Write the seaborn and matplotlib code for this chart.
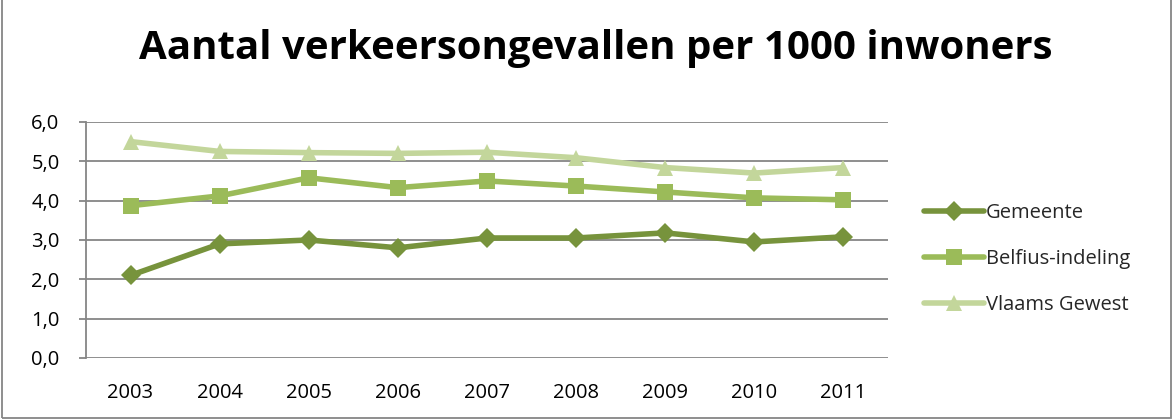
import matplotlib
matplotlib.use("Agg")
import matplotlib.pyplot as plt
import seaborn as sns
import pandas as pd
from matplotlib.patches import Rectangle
from matplotlib.ticker import FuncFormatter

years = ["2003", "2004", "2005", "2006", "2007", "2008", "2009", "2010", "2011"]
gemeente = [2.1, 2.9, 3.0, 2.8, 3.05, 3.05, 3.18, 2.95, 3.08]
belfius = [3.87, 4.12, 4.58, 4.33, 4.5, 4.37, 4.22, 4.07, 4.02]
vlaams = [5.5, 5.25, 5.22, 5.2, 5.23, 5.09, 4.84, 4.7, 4.84]
series_names = ["Gemeente", "Belfius-indeling", "Vlaams Gewest"]
title = "Aantal verkeersongevallen per 1000 inwoners"

df = pd.DataFrame({
    "jaar": years * 3,
    "x": list(range(len(years))) * 3,
    "waarde": gemeente + belfius + vlaams,
    "reeks": [series_names[0]] * 9 + [series_names[1]] * 9 + [series_names[2]] * 9,
})

sns.set_theme(style="white")
plt.rcParams['font.family'] = ['Open Sans', 'DejaVu Sans']

fig = plt.figure(figsize=(11.73, 4.19), dpi=100)
ax = fig.add_axes([0.0733, 0.1456, 0.757 - 0.0733, 0.709 - 0.1456])

colors = {"Gemeente": "#77933C", "Belfius-indeling": "#9BBB59", "Vlaams Gewest": "#C3D69B"}
markers = {"Gemeente": "D", "Belfius-indeling": "s", "Vlaams Gewest": "^"}
msizes = {"Gemeente": 10, "Belfius-indeling": 12, "Vlaams Gewest": 12}

for name in series_names:
    sub = df[df["reeks"] == name]
    sns.lineplot(data=sub, x="x", y="waarde", ax=ax, color=colors[name], linewidth=4,
                 marker=markers[name], markersize=msizes[name], markeredgewidth=0,
                 label=name)

ax.set_xlim(-0.5, len(years) - 0.5)
ax.set_ylim(0, 6)
ax.set_yticks([0, 1, 2, 3, 4, 5, 6])
ax.yaxis.set_major_formatter(FuncFormatter(lambda v, p: f"{v:.1f}".replace(".", ",")))
ax.set_xticks(range(len(years)))
ax.set_xticklabels(years)
ax.set_xlabel("")
ax.set_ylabel("")
ax.grid(axis="y", color="#868686", linewidth=1.3)
ax.set_axisbelow(True)
for s in ["top", "right", "bottom"]:
    ax.spines[s].set_visible(False)
ax.spines["left"].set_color("#868686")
ax.spines["left"].set_linewidth(1.3)
ax.tick_params(axis="y", left=True, length=5, color="#868686", width=1.3, labelsize=14.5, pad=14, labelcolor="black")
ax.tick_params(axis="x", bottom=False, labelsize=14.5, pad=12, labelcolor="black")

leg = ax.legend(loc="center left", bbox_to_anchor=(1.022, 0.42), frameon=False, fontsize=14.5,
                handlelength=3.0, handletextpad=0.1, labelspacing=1.3)

fig.text(0.508, 0.885, title, ha="center", va="center", fontsize=29, fontweight="bold", color="black")

fig.patches.append(Rectangle((0.002, 0.002), 0.996, 1.2, transform=fig.transFigure,
                             fill=False, edgecolor="#868686", linewidth=1.3))

fig.savefig("out.png", dpi=100)
